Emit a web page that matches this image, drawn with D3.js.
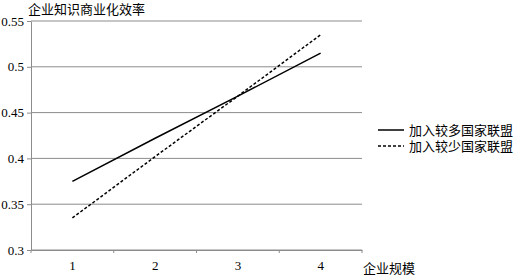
<!DOCTYPE html>
<html>
<head>
<meta charset="utf-8">
<script src="https://cdn.jsdelivr.net/npm/d3@7"></script>
<style>
  body { margin: 0; background: #fff; }
  text { font-family: "Liberation Serif", "Noto Sans CJK SC", serif; }
</style>
</head>
<body>
<div id="draw"></div>
<script>
// data
let categories = ['1', '2', '3', '4'];
let yTicks = [0.3, 0.35, 0.4, 0.45, 0.5, 0.55];
let seriesNames = ['加入较多国家联盟', '加入较少国家联盟'];
let moreAlliances = [0.375, 0.422, 0.468, 0.515];
let fewerAlliances = [0.335, 0.402, 0.468, 0.535];

let width = 519,
    height = 276,
    margin = { top: 21, left: 31, bottom: 26, right: 157 };

let svg = d3.select('#draw')
    .append('svg')
    .attr('width', width)
    .attr('height', height);

let innerW = width - margin.left - margin.right,
    innerH = height - margin.top - margin.bottom;

let g = svg.append('g')
    .attr('transform', 'translate(' + margin.left + ',' + margin.top + ')');

let xScale = d3.scaleBand().domain(categories).range([0, innerW]),
    yScale = d3.scaleLinear().domain([0.3, 0.55]).range([innerH, 0]);

// grid lines
g.append('g')
    .selectAll('line')
    .data(yTicks)
    .enter()
    .append('line')
    .attr('x1', 0)
    .attr('x2', innerW)
    .attr('y1', d => yScale(d))
    .attr('y2', d => yScale(d))
    .attr('stroke', '#8c8c8c')
    .attr('stroke-width', 1);

// y axis
let yAxis = g.append('g')
    .call(d3.axisLeft(yScale).tickValues(yTicks).tickSizeInner(4).tickSizeOuter(0).tickPadding(3).tickFormat(d => String(+d.toFixed(2))));
yAxis.select('.domain').attr('stroke', '#8c8c8c');
yAxis.selectAll('.tick line').attr('stroke', '#8c8c8c');
yAxis.selectAll('text').attr('font-size', 13).attr('fill', '#000');

// x axis
let xAxis = g.append('g')
    .attr('transform', 'translate(0,' + innerH + ')')
    .call(d3.axisBottom(xScale).tickSize(0));
xAxis.select('.domain').attr('stroke', '#8c8c8c');
xAxis.selectAll('text').attr('font-size', 13).attr('fill', '#000').attr('dy', 0).attr('y', 20);
xAxis.selectAll('.bound')
    .data(d3.range(0, categories.length + 1))
    .enter()
    .append('line')
    .attr('class', 'bound')
    .attr('x1', i => i * xScale.bandwidth())
    .attr('x2', i => i * xScale.bandwidth())
    .attr('y1', 0)
    .attr('y2', 3)
    .attr('stroke', '#8c8c8c');

// axis titles
svg.append('text')
    .attr('x', 28)
    .attr('y', 14)
    .attr('font-size', 13)
    .text('企业知识商业化效率');
svg.append('text')
    .attr('x', margin.left + innerW + 1)
    .attr('y', 273)
    .attr('font-size', 13)
    .text('企业规模');

// lines
let line = d3.line()
    .x((d, i) => xScale(categories[i]) + xScale.bandwidth() / 2)
    .y(d => yScale(d));

let series = [
    { name: seriesNames[0], values: moreAlliances, dash: null },
    { name: seriesNames[1], values: fewerAlliances, dash: '3,2' }
];

g.selectAll('.series')
    .data(series)
    .enter()
    .append('path')
    .attr('class', 'series')
    .attr('d', d => line(d.values))
    .attr('fill', 'none')
    .attr('stroke', '#000')
    .attr('stroke-width', 1.5)
    .attr('stroke-dasharray', d => d.dash);

// legend
let legend = svg.append('g')
    .attr('transform', 'translate(378,130)');
let items = legend.selectAll('g')
    .data(series)
    .enter()
    .append('g')
    .attr('transform', (d, i) => 'translate(0,' + i * 16 + ')');
items.append('line')
    .attr('x1', 0)
    .attr('x2', 26)
    .attr('y1', 0)
    .attr('y2', 0)
    .attr('stroke', '#000')
    .attr('stroke-width', 1.5)
    .attr('stroke-dasharray', d => d.dash);
items.append('text')
    .attr('x', 31)
    .attr('y', 5)
    .attr('font-size', 13)
    .text(d => d.name);
</script>
</body>
</html>
